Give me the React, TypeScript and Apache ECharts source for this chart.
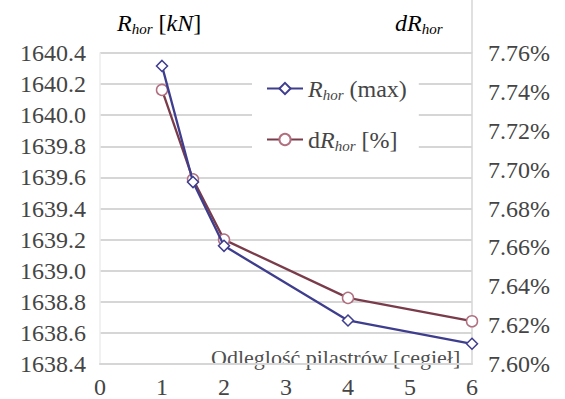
import React, { useEffect, useRef } from "react";
import * as echarts from "echarts";

const xValues = [1, 1.5, 2, 4, 6];
const rHorMax = [1640.317, 1639.57, 1639.16, 1638.68, 1638.53];
const dRHor = [7.741, 7.695, 7.664, 7.634, 7.622];
const xTicks = { min: 0, max: 6, interval: 1 };
const leftTicks = { min: 1638.4, max: 1640.4, interval: 0.2 };
const rightTicks = { min: 7.6, max: 7.76, interval: 0.02 };

const SERIF = "Liberation Serif";
const BLUE = "#3f3d8e";
const RED = "#7a3c4b";
const TXT = "#454545";

export default function App() {
  const ref = useRef<HTMLDivElement>(null);
  useEffect(() => {
    if (!ref.current) return;
    const chart = echarts.init(ref.current, null, { renderer: "svg" });
    const rich = {
      n: { fontFamily: SERIF, fontSize: 24, color: TXT, lineHeight: 28 },
      i: { fontFamily: SERIF, fontSize: 24, fontStyle: "italic", color: TXT, lineHeight: 28 },
      s: { fontFamily: SERIF, fontSize: 15, fontStyle: "italic", color: TXT, padding: [12, 0, 0, 0], lineHeight: 28 },
    };
    chart.setOption({
      animation: false,
      backgroundColor: "#ffffff",
      textStyle: { fontFamily: SERIF },
      grid: { left: 100, right: 93, top: 53, bottom: 33, containLabel: false },
      xAxis: {
        type: "value",
        min: xTicks.min,
        max: xTicks.max,
        interval: xTicks.interval,
        axisLine: { show: true, lineStyle: { color: "#d6d6d6", width: 2 } },
        axisTick: { show: false },
        splitLine: { show: false },
        axisLabel: { fontFamily: SERIF, fontSize: 24, color: TXT, margin: 11 },
      },
      yAxis: [
        {
          type: "value",
          min: leftTicks.min,
          max: leftTicks.max,
          interval: leftTicks.interval,
          axisLine: { show: true, lineStyle: { color: "#ececec", width: 1.5 } },
          axisTick: { show: false },
          splitLine: { show: true, lineStyle: { color: "#d6d6d6", width: 2 } },
          axisLabel: {
            fontFamily: SERIF,
            fontSize: 24,
            color: TXT,
            margin: 14,
            formatter: (v: number) => v.toFixed(1),
          },
        },
        {
          type: "value",
          position: "right",
          min: rightTicks.min,
          max: rightTicks.max,
          interval: rightTicks.interval,
          axisLine: { show: true, lineStyle: { color: "#d6d6d6", width: 1.5 } },
          axisTick: { show: false },
          splitLine: { show: false },
          axisLabel: {
            fontFamily: SERIF,
            fontSize: 24,
            color: TXT,
            margin: 16,
            formatter: (v: number) => v.toFixed(2) + "%",
          },
        },
      ],
      legend: {
        orient: "vertical",
        left: 252,
        top: 67,
        backgroundColor: "#ffffff",
        padding: [8, 12, 8, 14],
        itemWidth: 36,
        itemHeight: 14,
        itemGap: 24,
        data: ["R", "dR"],
        formatter: (name: string) =>
          name === "R" ? "{i|R}{s|hor}{n| (max)}" : "{n|d}{i|R}{s|hor}{n| [%]}",
        textStyle: { fontFamily: SERIF, rich },
      },
      graphic: [
        {
          type: "line",
          shape: { x1: 472, y1: 0, x2: 472, y2: 53 },
          style: { stroke: "#d6d6d6", lineWidth: 1.5 },
          silent: true,
        },
        {
          type: "text",
          left: 117,
          top: 9,
          style: {
            text: "{i|R}{s|hor}{n| [}{i|kN}{n|]}",
            fontFamily: SERIF,
            rich,
          },
        },
        {
          type: "text",
          left: 395,
          top: 9,
          style: {
            text: "{i|dR}{s|hor}",
            fontFamily: SERIF,
            rich,
          },
        },
        {
          type: "text",
          left: 211,
          top: 346,
          style: {
            text: "Odleglość pilastrów [cegieł]",
            fontFamily: SERIF,
            fontSize: 22,
            fill: "#505050",
            backgroundColor: "#ffffff",
          },
        },
      ],
      series: [
        {
          name: "R",
          type: "line",
          yAxisIndex: 0,
          data: xValues.map((x, i) => [x, rHorMax[i]]),
          symbol: "diamond",
          symbolSize: 11,
          lineStyle: { color: BLUE, width: 2.3 },
          itemStyle: { color: "#ffffff", borderColor: BLUE, borderWidth: 1.5 },
          z: 3,
        },
        {
          name: "dR",
          type: "line",
          yAxisIndex: 1,
          data: xValues.map((x, i) => [x, dRHor[i]]),
          symbol: "circle",
          symbolSize: 11,
          lineStyle: { color: RED, width: 2.3 },
          itemStyle: { color: "#ffffff", borderColor: "#b07080", borderWidth: 1.5 },
          z: 2,
        },
      ],
    });
    return () => chart.dispose();
  }, []);
  return <div ref={ref} style={{ width: 565, height: 399, position: "absolute", left: 0, top: 0 }} />;
}
